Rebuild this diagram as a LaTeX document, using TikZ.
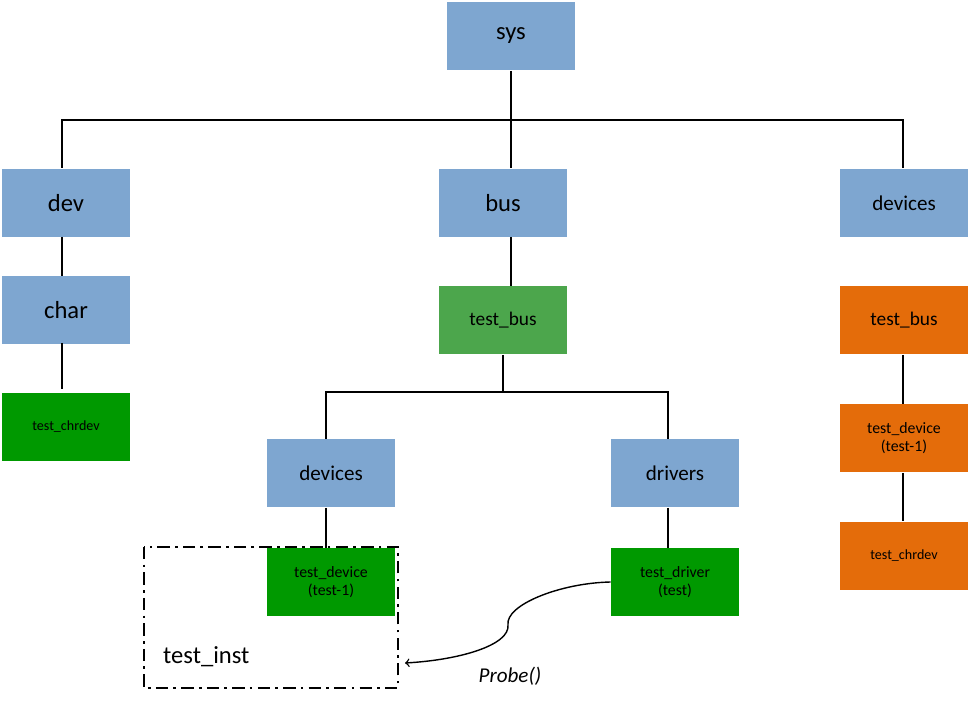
\documentclass[tikz,border=0pt]{standalone}
\usepackage{fontspec}
\setmainfont{Carlito}
\definecolor{bl}{RGB}{126,166,208}
\definecolor{dg}{RGB}{0,153,0}
\definecolor{lg}{RGB}{76,166,76}
\definecolor{og}{RGB}{228,108,10}
\begin{document}
\begin{tikzpicture}[x=0.02cm,y=-0.02cm,
 box/.style={minimum width=2.56cm,minimum height=1.38cm,inner sep=0pt,align=center,text=black},
 b/.style={box,fill=bl,font=\fontsize{14}{16}\selectfont},
 bm/.style={box,fill=bl,font=\fontsize{12}{14}\selectfont},
 g/.style={box,fill=dg,font=\fontsize{9}{10}\selectfont},
 o/.style={box,fill=og,font=\fontsize{9}{10}\selectfont},
 ln/.style={black,line width=0.8pt}]
\useasboundingbox (0,0) rectangle (971,702);
\node[b] (sys) at (511,36) {sys};
\node[b] (dev) at (66,203) {dev};
\node[b] (bus) at (503,203) {bus};
\node[bm] (devr) at (904,203) {devices};
\node[b] (char) at (66,310) {char};
\node[g,font=\fontsize{8}{9}\selectfont] (chl) at (66,427) {test\_chrdev};
\node[box,fill=lg,font=\fontsize{11}{13}\selectfont] (tbg) at (503,320) {test\_bus};
\node[o,font=\fontsize{11}{13}\selectfont] (tbo) at (904,320) {test\_bus};
\node[o] (tdo) at (904,438) {test\_device\\(test-1)};
\node[o,font=\fontsize{8}{9}\selectfont] (tco) at (904,556) {test\_chrdev};
\node[bm] (devm) at (331,473) {devices};
\node[bm] (drv) at (675,473) {drivers};
\node[g] (tdg) at (331,582) {test\_device\\(test-1)};
\node[g] (tdr) at (675,582) {test\_driver\\(test)};
\coordinate (j1) at (511,120);
\coordinate (j2) at (503,392);
\draw[ln] (sys.south -| j1) -- (j1);
\draw[ln] (62,168) -- (62,120) -- (903,120) -- (903,168);
\draw[ln] (j1) -- (bus.north -| j1);
\draw[ln] (62,237) -- (62,276);
\draw[ln] (62,343) -- (62,389);
\draw[ln] (511,237) -- (511,286);
\draw[ln] (tbg.south) -- (j2);
\draw[ln] (326,439) -- (326,392) -- (668,392) -- (668,439);
\draw[ln] (326,508) -- (326,548);
\draw[ln] (668,508) -- (668,548);
\draw[ln] (903,355) -- (903,404);
\draw[ln] (903,473) -- (903,521);
\draw[line width=1.5pt,dash pattern=on 7pt off 3pt on 1.5pt off 3pt] (144,547) rectangle (398,688);
\node[font=\fontsize{14}{16}\selectfont,anchor=west] (ti) at (157,657) {test\_inst};
\coordinate (pe) at (405,663);
\draw[ln,->] (tdr.west) .. controls (560,583) and (505,605) .. (508,625) .. controls (510,645) and (460,660) .. (pe);
\node[font=\fontsize{12}{14}\selectfont\itshape] (pr) at (510,676) {Probe()};
\end{tikzpicture}
\end{document}
